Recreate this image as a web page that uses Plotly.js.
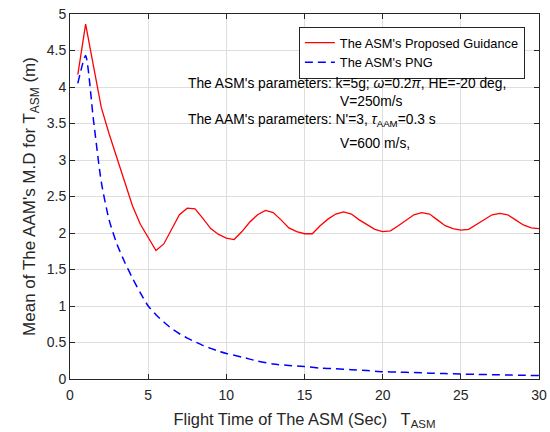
<!DOCTYPE html>
<html>
<head>
<meta charset="utf-8">
<script src="https://cdn.plot.ly/plotly-3.0.1.min.js"></script>
<style>html,body{margin:0;padding:0;background:#fff;}#chart{width:550px;height:432px;}</style>
</head>
<body>
<div id="chart"></div>
<script>
const timeRed = [0.5,1,1.5,2,2.5,3,3.5,4,4.5,5,5.5,6,6.5,7,7.5,8,8.5,9,9.5,10,10.5,11,11.5,12,12.5,13,13.5,14,14.5,15,15.5,16,16.5,17,17.5,18,18.5,19,19.5,20,20.5,21,21.5,22,22.5,23,23.5,24,24.5,25,25.5,26,26.5,27,27.5,28,28.5,29,29.5,30];
const proposed = [4.17,4.86,4.29,3.72,3.36,3.03,2.70,2.37,2.12,1.93,1.76,1.85,2.06,2.25,2.34,2.33,2.20,2.06,1.98,1.93,1.91,2.02,2.15,2.25,2.31,2.28,2.18,2.07,2.02,1.99,1.99,2.10,2.19,2.26,2.29,2.26,2.18,2.11,2.05,2.02,2.03,2.10,2.18,2.25,2.28,2.26,2.18,2.10,2.06,2.04,2.05,2.12,2.19,2.25,2.27,2.25,2.18,2.11,2.07,2.06];
const timeBlue = [0.5,1,1.5,2,2.5,3,3.5,4,4.5,5,5.5,6,6.5,7,7.5,8,8.5,9,9.5,10,11,12,13,14,15,16,17,18,19,20,21,22,23,24,25,26,27,28,29,30];
const png = [4.05,4.43,3.55,2.70,2.18,1.85,1.60,1.38,1.18,1.00,0.88,0.78,0.69,0.62,0.56,0.51,0.46,0.42,0.38,0.35,0.30,0.245,0.205,0.185,0.17,0.15,0.14,0.128,0.115,0.10,0.095,0.088,0.08,0.074,0.068,0.063,0.059,0.055,0.051,0.047];
const xTicks = [0,5,10,15,20,25,30];
const yTicks = [0,0.5,1,1.5,2,2.5,3,3.5,4,4.5,5];

const font = 'Liberation Sans, Arial, sans-serif';
const traces = [
  {x: timeRed, y: proposed, type: 'scatter', mode: 'lines', name: "The ASM's Proposed Guidance",
   line: {color: '#ff0000', width: 1.3}},
  {x: timeBlue, y: png, type: 'scatter', mode: 'lines', name: "The ASM's PNG",
   line: {color: '#0000ff', width: 1.5, dash: '8px,5px', shape: 'spline', smoothing: 0.6}}
];
const axCommon = {
  showline: true, linecolor: '#262626', linewidth: 1, mirror: 'ticks',
  ticks: 'inside', ticklen: 5, tickcolor: '#262626',
  showgrid: true, gridcolor: '#dedede', gridwidth: 1, zeroline: false,
  tickfont: {family: font, size: 14, color: '#262626'}
};
const layout = {
  width: 550, height: 432,
  margin: {l: 70, r: 11, t: 14, b: 53},
  paper_bgcolor: '#fff', plot_bgcolor: '#fff',
  showlegend: true,
  legend: {x: 0.488, y: 0.965, xanchor: 'left', yanchor: 'top',
    bgcolor: '#fff', bordercolor: '#262626', borderwidth: 1,
    font: {family: font, size: 12.8, color: '#000'}, tracegroupgap: 0, itemwidth: 30},
  xaxis: Object.assign({}, axCommon, {range: [0, 30], tickvals: xTicks, ticktext: xTicks.map(String),
    ticklabelstandoff: 3,
    title: {text: "Flight Time of The ASM (Sec)   T<sub>ASM</sub>", font: {family: font, size: 16.4, color: '#262626'}, standoff: 11}}),
  yaxis: Object.assign({}, axCommon, {range: [0, 5], tickvals: yTicks, ticktext: yTicks.map(String),
    title: {text: "Mean of The AAM's M.D for T<sub>ASM</sub> (m)", font: {family: font, size: 17, color: '#262626'}, standoff: 6}}),
  annotations: [
    {xref: 'paper', yref: 'paper', x: (186-70)/469, y: (379-83)/365, xanchor: 'left', yanchor: 'middle', showarrow: false,
     text: "The ASM's parameters: k=5g; <i>ω</i>=0.2<i>π</i>, HE=-20 deg,", font: {family: font, size: 13.8, color: '#000'}},
    {xref: 'paper', yref: 'paper', x: (338-70)/469, y: (379-101)/365, xanchor: 'left', yanchor: 'middle', showarrow: false,
     text: "V=250m/s", font: {family: font, size: 13.8, color: '#000'}},
    {xref: 'paper', yref: 'paper', x: (186-70)/469, y: (379-120)/365, xanchor: 'left', yanchor: 'middle', showarrow: false,
     text: "The AAM's parameters: N'=3, <i>τ</i><sub>AAM</sub>=0.3 s", font: {family: font, size: 13.8, color: '#000'}},
    {xref: 'paper', yref: 'paper', x: (338-70)/469, y: (379-143)/365, xanchor: 'left', yanchor: 'middle', showarrow: false,
     text: "V=600 m/s,", font: {family: font, size: 13.8, color: '#000'}}
  ]
};
Plotly.newPlot('chart', traces, layout, {displayModeBar: false, staticPlot: true});
</script>
</body>
</html>
